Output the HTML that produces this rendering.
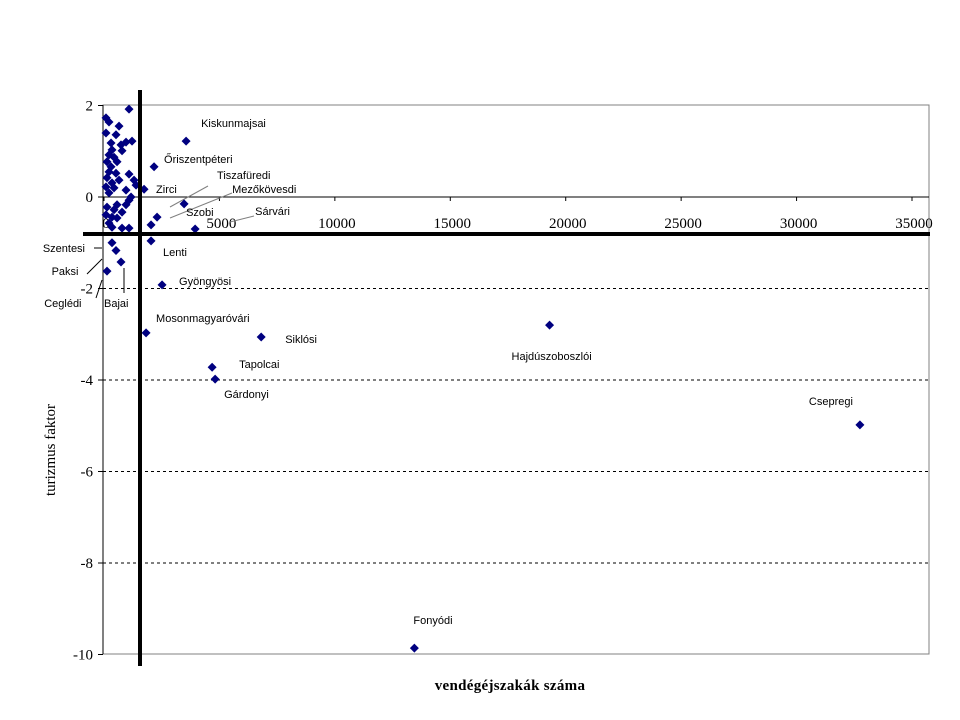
<!DOCTYPE html>
<html><head><meta charset="utf-8"><style>
body{margin:0;background:#fff;width:960px;height:720px;overflow:hidden}
svg{display:block}
.t{font-family:"Liberation Sans",sans-serif;font-size:11px;fill:#000}
.s{font-family:"Liberation Serif",serif;font-size:15px;fill:#000}
</style></head><body>
<svg id="chart" width="960" height="720">
<rect x="103" y="105" width="826" height="549" fill="none" stroke="#808080" stroke-width="1"/>
<g id="grid"></g>
<g id="axes"></g>
<g id="leaders" stroke="#808080" stroke-width="1">
<line x1="170" y1="207" x2="208" y2="186"/>
<line x1="170" y1="218" x2="232" y2="193"/>
<line x1="230" y1="222" x2="254" y2="216"/>
<line x1="94" y1="248" x2="102" y2="248" stroke="#000"/>
<line x1="87" y1="274" x2="102" y2="259" stroke="#000"/>
<line x1="96" y1="298" x2="102" y2="280" stroke="#000"/>
<line x1="124" y1="293" x2="124" y2="268" stroke="#000"/>
</g>
<g id="points"></g>
<g id="labels"></g>
<line x1="140" y1="90" x2="140" y2="666" stroke="#000" stroke-width="4"/>
<line x1="83" y1="234" x2="930" y2="234" stroke="#000" stroke-width="4"/>
<text class="s" x="0" y="0" transform="translate(55,450) rotate(-90)" text-anchor="middle">turizmus faktor</text>
<text class="s" x="510" y="690" text-anchor="middle" font-weight="bold" style="letter-spacing:0.3px">vendégéjszakák száma</text>
</svg>
<script>
const xTicks=[0,5000,10000,15000,20000,25000,30000,35000];
const yTicks=[2,0,-2,-4,-6,-8,-10];
const clusterX=[1084,87,217,651,87,520,1214,954,304,737,347,781,217,434,130,564,304,1084,217,520,130,651,347,1301,1388,87,434,954,217,1171,1084,130,564,954,434,781,87,347,564,217,347,781,1084,347,520,737,130];
const clusterY=[1.92,1.73,1.64,1.55,1.40,1.36,1.22,1.20,1.18,1.14,1.03,1.01,0.92,0.87,0.77,0.77,0.66,0.50,0.55,0.52,0.42,0.37,0.31,0.37,0.26,0.22,0.20,0.15,0.09,0.0,-0.07,-0.22,-0.17,-0.17,-0.28,-0.33,-0.39,-0.44,-0.46,-0.57,-0.66,-0.68,-0.68,-1.0,-1.17,-1.42,-1.62];
const namedLabels=["Kiskunmajsai","Őriszentpéteri","Zirci","Mezőkövesdi","Szobi","Tiszafüredi","Sárvári","Lenti","Gyöngyösi","Mosonmagyaróvári","Siklósi","Tapolcai","Gárdonyi","Hajdúszoboszlói","Csepregi","Fonyódi"];
const namedX=[3556,2168,1735,3470,2299,2038,3947,2038,2515,1822,6809,4684,4814,19300,32744,13445];
const namedY=[1.22,0.66,0.17,-0.15,-0.44,-0.61,-0.70,-0.96,-1.92,-2.97,-3.06,-3.72,-3.98,-2.80,-4.98,-9.86];
const labelDx=[15,10,12,48,29,66,60,12,17,10,24,27,9,-38,-51,-1];
const labelDy=[-14,-4,4,-11,-1,-46,-14,15,0,-11,6,1,19,35,-20,-24];
const extraLabels=["Szentesi","Paksi","Ceglédi","Bajai"];
const extraX=[-2650,-2270,-2590,0];
const extraY=[-1.2,-1.7,-2.4,-2.4];

const X0=104,XS=(912-104)/35000,Y0=197,YS=(654-105)/12;
const sx=v=>X0+v*XS, sy=v=>Y0-v*YS;
const NS="http://www.w3.org/2000/svg";
function mk(tag,attrs,parent,txt){const e=document.createElementNS(NS,tag);for(const k in attrs)e.setAttribute(k,attrs[k]);if(txt!==undefined)e.textContent=txt;parent.appendChild(e);return e;}
const grid=document.getElementById('grid'),axes=document.getElementById('axes'),pts=document.getElementById('points'),labs=document.getElementById('labels');
yTicks.forEach(v=>{
  if(v<0&&v>-10){const l=mk('line',{x1:103,x2:929,y1:sy(v),y2:sy(v),stroke:'#000','stroke-dasharray':'3,3','stroke-width':1},grid);
  
  }
  const tk=mk('line',{x1:98,x2:103,y1:sy(v),y2:sy(v),stroke:'#000'},axes);
  
  
  const t=mk('text',{x:93,y:sy(v)+5,'text-anchor':'end',class:'s'},axes,String(v));
  
  
});
const ya=mk('line',{x1:103,x2:103,y1:105,y2:654,stroke:'#000'},axes);


const xa=mk('line',{x1:103,x2:929,y1:sy(0),y2:sy(0),stroke:'#000'},axes);


xTicks.forEach(v=>{
  const tk=mk('line',{x1:sx(v),x2:sx(v),y1:sy(0),y2:sy(0)+4,stroke:'#000'},axes);
  
  
  const t=mk('text',{x:sx(v)+2,y:sy(0)+31,'text-anchor':'middle',class:'s'},axes,String(v));
  
  
});
function dia(x,y,parent){const cx=sx(x),cy=sy(y);return mk('polygon',{points:`${cx},${cy-4.5} ${cx+4.5},${cy} ${cx},${cy+4.5} ${cx-4.5},${cy}`,fill:'#000080'},parent);}
clusterX.forEach((x,i)=>{const p=dia(x,clusterY[i],pts);
  
  });
namedX.forEach((x,i)=>{const p=dia(x,namedY[i],pts);
  
  
  const t=mk('text',{x:sx(x)+labelDx[i],y:sy(namedY[i])+labelDy[i],class:'t'},labs,namedLabels[i]);
  
  });
extraLabels.forEach((n,i)=>{const t=mk('text',{x:sx(extraX[i]),y:sy(extraY[i]),class:'t'},labs,n);
  
  });
</script>
</body></html>
